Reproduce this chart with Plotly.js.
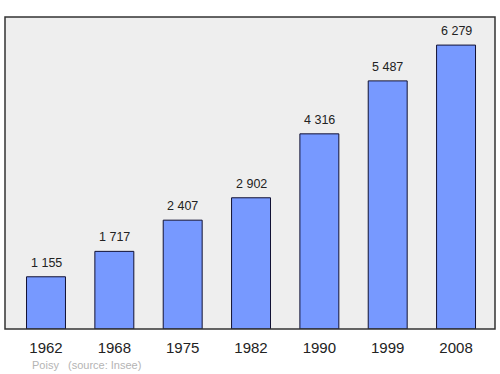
<!DOCTYPE html>
<html><head><meta charset="utf-8">
<script src="https://cdn.plot.ly/plotly-3.0.1.min.js"></script>
<style>body{margin:0}#c{width:500px;height:374px}</style></head>
<body><div id="c"></div>
<script>
const years = ["1962","1968","1975","1982","1990","1999","2008"];
const population = [1155,1717,2407,2902,4316,5487,6279];
const labels = ["1 155","1 717","2 407","2 902","4 316","5 487","6 279"];
const footerPlace = "Poisy";
const footerSource = "(source: Insee)";

const FONT = 'Liberation Sans, Arial, sans-serif';
const trace = {
  type:'bar', x: years, y: population,
  marker:{color:'#7799ff', line:{color:'#111133', width:1}},
  width:0.57, hoverinfo:'none'
};
const annotations = years.map((yr,i)=>({
  x: i, y: population[i], xref:'x', yref:'y', text: labels[i],
  showarrow:false, yanchor:'bottom', yshift:5,
  font:{family:FONT, size:12.5, color:'#222'}
}));
annotations.push({text:footerPlace, xref:'paper', yref:'paper', x:25/490, y:-0.115,
    xanchor:'left', yanchor:'middle', showarrow:false,
    font:{family:FONT, size:11, color:'#b4b4b4'}});
annotations.push({text:footerSource, xref:'paper', yref:'paper', x:61/490, y:-0.115,
    xanchor:'left', yanchor:'middle', showarrow:false,
    font:{family:FONT, size:11, color:'#b4b4b4'}});
const layout = {
  width:500, height:374,
  margin:{l:5,r:5,t:17,b:45},
  paper_bgcolor:'#ffffff', plot_bgcolor:'#eeeeee',
  showlegend:false,
  xaxis:{type:'category', range:[-0.6,6.57], showgrid:false, zeroline:false,
    tickfont:{family:FONT, size:15, color:'#222'}, ticks:'', ticklabelstandoff:8},
  yaxis:{range:[0,6900], visible:false, showgrid:false, zeroline:false},
  shapes:[{type:'rect', xref:'paper', yref:'paper', x0:0, x1:1, y0:0, y1:1,
    line:{color:'#333', width:1.5}}],
  annotations: annotations
};
Plotly.newPlot('c',[trace],layout,{staticPlot:true});
</script></body></html>
